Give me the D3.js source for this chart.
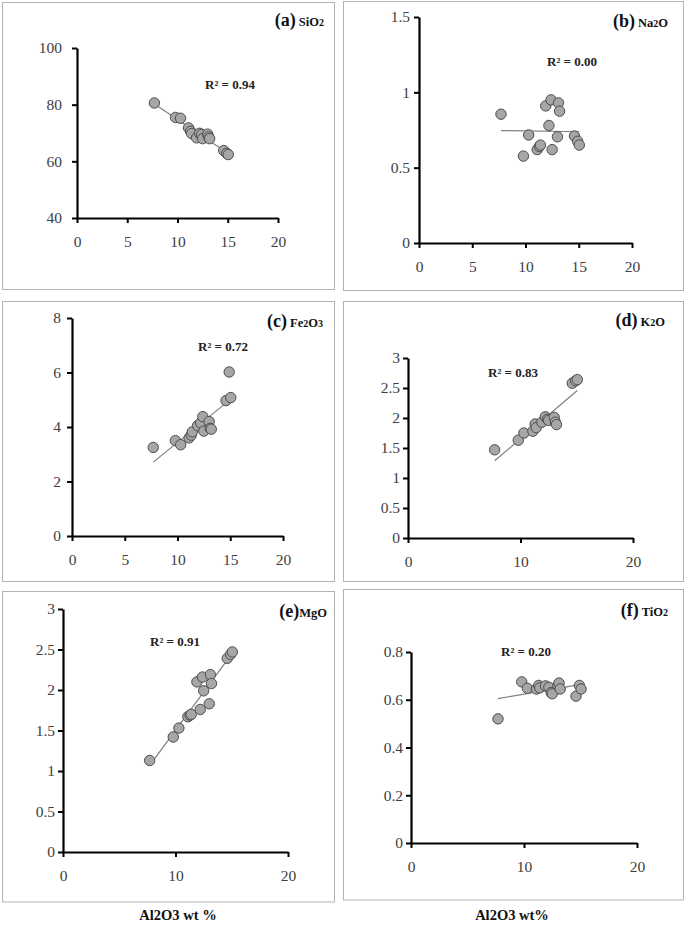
<!DOCTYPE html>
<html><head><meta charset="utf-8">
<script src="https://cdn.jsdelivr.net/npm/d3@7"></script>
<style>
html,body{margin:0;padding:0;background:#fff;}
svg{display:block;}
svg text{font-family:"Liberation Serif","Times New Roman","DejaVu Serif",serif;}
</style>
</head><body>
<svg id="chart" width="685" height="929"></svg>
<script>
// ---- data ----
const al2o3 = [7.7, 9.8, 10.3, 11.1, 11.3, 11.4, 11.9, 12.2, 12.4, 12.5, 13.0, 13.1, 13.2, 14.6, 14.9, 15.05];
const sio2  = [80.6, 75.5, 75.2, 71.8, 70.6, 69.8, 68.3, 69.9, 69.5, 68.0, 69.6, 68.6, 68.0, 63.8, 62.8, 62.4];
const na2o  = [0.855, 0.577, 0.717, 0.62, 0.64, 0.65, 0.91, 0.78, 0.95, 0.62, 0.705, 0.93, 0.875, 0.71, 0.675, 0.65];
const fe2o3 = [3.25, 3.5, 3.35, 3.6, 3.7, 3.82, 4.05, 4.15, 4.38, 3.85, 4.2, 3.95, 3.92, 4.97, 6.02, 5.08];
const k2o   = [1.47, 1.63, 1.75, 1.78, 1.90, 1.84, 1.93, 2.02, 1.98, 1.96, 2.01, 1.93, 1.89, 2.58, 2.62, 2.64];
const mgo   = [1.13, 1.42, 1.53, 1.67, 1.69, 1.70, 2.10, 1.76, 2.16, 1.99, 1.83, 2.19, 2.08, 2.39, 2.44, 2.47];
const tio2  = [0.52, 0.675, 0.648, 0.645, 0.66, 0.65, 0.658, 0.652, 0.63, 0.625, 0.66, 0.67, 0.645, 0.615, 0.66, 0.645];

const panelLetters = ["(a)", "(b)", "(c)", "(d)", "(e)", "(f)"];
const oxideParts = [[["SiO",0],["2",1]], [["Na",0],["2",1],["O",0]], [["Fe",0],["2",1],["O",0],["3",1]], [["K",0],["2",1],["O",0]], [["MgO",0]], [["TiO",0],["2",1]]];
const r2Labels = ["R² = 0.94", "R² = 0.00", "R² = 0.72", "R² = 0.83", "R² = 0.91", "R² = 0.20"];
const xTicksA = [0, 5, 10, 15, 20];
const xTicksB = [0, 10, 20];
const yTicksList = [[40, 60, 80, 100], [0, 0.5, 1, 1.5], [0, 2, 4, 6, 8], [0, 0.5, 1, 1.5, 2, 2.5, 3], [0, 0.5, 1, 1.5, 2, 2.5, 3], [0, 0.2, 0.4, 0.6, 0.8]];
const xTitles = ["Al2O3 wt %", "Al2O3 wt%"];

const series = [sio2, na2o, fe2o3, k2o, mgo, tio2];

// ---- layout ----
const layout = [
  {box:[2.5,2.5,332,287],   x0:77,  x1:278, yT:48,  yB:218, yd:[40,100], xt:xTicksA, gap:15, lab:[324,26],  r2:[230,89]},
  {box:[343.5,1.5,340,289], x0:419, x1:632, yT:17,  yB:243, yd:[0,1.5],  xt:xTicksA, gap:9,  lab:[668,27],  r2:[572,66]},
  {box:[2.5,301.5,332,280], x0:72,  x1:283, yT:318, yB:536, yd:[0,8],    xt:xTicksA, gap:11, lab:[323,327], r2:[223,351]},
  {box:[343.5,301.5,340,280],x0:408,x1:633, yT:358, yB:538, yd:[0,3],    xt:xTicksB, gap:8,  lab:[665,326], r2:[513,377]},
  {box:[2.5,591.5,332,310.5],x0:63, x1:288, yT:609, yB:852, yd:[0,3],    xt:xTicksB, gap:8,  lab:[327,617], r2:[175,646]},
  {box:[343.5,589.5,340,310.5],x0:411,x1:637,yT:652,yB:843, yd:[0,0.8],  xt:xTicksB, gap:8,  lab:[668,616], r2:[526,656]}
];

const svg = d3.select("#chart");

function linReg(xs, ys) {
  const n = xs.length, mx = d3.mean(xs), my = d3.mean(ys);
  let sxy = 0, sxx = 0;
  for (let i = 0; i < n; i++) { sxy += (xs[i]-mx)*(ys[i]-my); sxx += (xs[i]-mx)*(xs[i]-mx); }
  const b = sxy / sxx; return {a: my - b*mx, b: b};
}

layout.forEach((L, i) => {
  const g = svg.append("g");
  g.append("rect").attr("x", L.box[0]).attr("y", L.box[1]).attr("width", L.box[2]).attr("height", L.box[3])
    .attr("fill", "#fff").attr("stroke", "#b3b3b3").attr("stroke-width", 1);

  const x = d3.scaleLinear().domain([0, 20]).range([L.x0, L.x1]);
  const y = d3.scaleLinear().domain(L.yd).range([L.yB, L.yT]);

  const xa = g.append("g").attr("transform", `translate(0,${L.yB})`)
    .call(d3.axisBottom(x).tickValues(L.xt).tickSize(5).tickSizeOuter(0).tickPadding(10).tickFormat(d3.format("")));
  const ya = g.append("g").attr("transform", `translate(${L.x0},0)`)
    .call(d3.axisLeft(y).tickValues(yTicksList[i]).tickSize(5).tickSizeOuter(0).tickPadding(L.gap - 5).tickFormat(d => String(d)));
  [xa, ya].forEach(a => {
    a.attr("font-family", null);
    a.select(".domain").attr("stroke", "#000").attr("stroke-width", 2.2);
    a.selectAll(".tick line").attr("stroke", "#000").attr("stroke-width", 2);
    a.selectAll(".tick text").attr("font-size", 15.5).attr("fill", "#404040");
  });
  xa.selectAll(".tick text").attr("dy", "0.9em");

  // regression line
  const ys = series[i];
  const r = linReg(al2o3, ys);
  const xmin = d3.min(al2o3), xmax = d3.max(al2o3);
  g.append("line").attr("x1", x(xmin)).attr("y1", y(r.a + r.b*xmin))
    .attr("x2", x(xmax)).attr("y2", y(r.a + r.b*xmax))
    .attr("stroke", "#7f7f7f").attr("stroke-width", 1.2);

  g.selectAll("circle").data(al2o3.map((v, k) => [v, ys[k]])).join("circle")
    .attr("cx", d => x(d[0])).attr("cy", d => y(d[1])).attr("r", 5.2)
    .attr("fill", "#a6a6a6").attr("stroke", "#4d4d4d").attr("stroke-width", 1);

  // R² label
  g.append("text").attr("x", L.r2[0]).attr("y", L.r2[1]).attr("text-anchor", "middle")
    .attr("font-weight", "bold").attr("font-size", 13).attr("fill", "#222")
    .text(r2Labels[i]);

  // panel label
  const t = g.append("text").attr("x", L.lab[0]).attr("y", L.lab[1]).attr("text-anchor", "end")
    .attr("font-weight", "bold").attr("fill", "#111");
  t.append("tspan").attr("font-size", 18).text(panelLetters[i]);
  oxideParts[i].forEach((p, k) => {
    const s = t.append("tspan").attr("font-size", p[1] ? 10 : 12.5).text(p[0]);
    if (k === 0 && i !== 4) s.attr("dx", 3);
  });
});

// x-axis titles
svg.append("text").attr("x", 178).attr("y", 920).attr("text-anchor", "middle")
  .attr("font-weight", "bold").attr("font-size", 14.5).attr("fill", "#111").text(xTitles[0]);
svg.append("text").attr("x", 512).attr("y", 920).attr("text-anchor", "middle")
  .attr("font-weight", "bold").attr("font-size", 14.5).attr("fill", "#111").text(xTitles[1]);
</script>
</body></html>
